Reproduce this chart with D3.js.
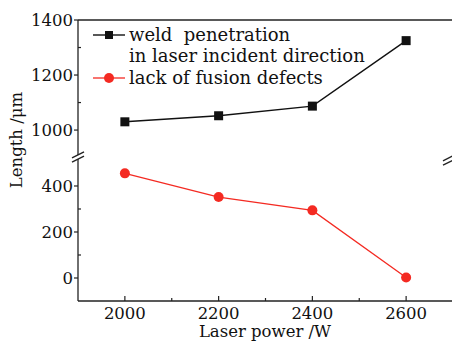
<!DOCTYPE html>
<html><head><meta charset="utf-8">
<script src="https://cdn.jsdelivr.net/npm/d3@7"></script>
<style>body{margin:0;background:#fff}svg{display:block}text{font-family:"DejaVu Serif",serif;fill:#111}</style>
</head><body><svg id="c" width="452" height="342"></svg>
<script>
const power = [2000, 2200, 2400, 2600];
const weldPenetration = [1030, 1052, 1087, 1325];
const lackOfFusion = [455, 352, 294, 2];
const xTicks = [2000, 2200, 2400, 2600];
const xMinor = [2100, 2300, 2500];
const yUpperTicks = [1000, 1200, 1400];
const yUpperMinor = [1100, 1300];
const yLowerTicks = [0, 200, 400];
const yLowerMinor = [100, 300];
const legendLabels = [["weld  penetration", "in laser incident direction"], ["lack of fusion defects"]];

const svg = d3.select("#c");
const FF = "DejaVu Serif, serif";
const L = 78, R = 453, T = 20, B = 301;
const x = d3.scaleLinear().domain([1900, 2700]).range([L, R]);
const yU = d3.scaleLinear().domain([913, 1400]).range([154, T]);
const yL = d3.scaleLinear().domain([-100, 513]).range([B, 160]);
const fs = 16.5, fl = 18;

// frame
svg.append("line").attr("x1", L).attr("x2", 452).attr("y1", T).attr("y2", T).attr("stroke", "#222").attr("stroke-width", 1.3);
svg.append("line").attr("x1", L).attr("x2", 452).attr("y1", B).attr("y2", B).attr("stroke", "#222").attr("stroke-width", 1.3);
svg.append("line").attr("x1", L).attr("x2", L).attr("y1", T).attr("y2", 155).attr("stroke", "#222").attr("stroke-width", 1.3);
svg.append("line").attr("x1", L).attr("x2", L).attr("y1", 159).attr("y2", B).attr("stroke", "#222").attr("stroke-width", 1.3);
// break marks
[[L, 157], [449, 160]].forEach(([bx, by]) => {
  [-2.2, 2.2].forEach(d => {
    svg.append("line").attr("x1", bx - 6).attr("x2", bx + 6).attr("y1", by + d + 3).attr("y2", by + d - 3)
      .attr("stroke", "#222").attr("stroke-width", 1.3);
  });
});

// x ticks
xTicks.forEach(v => {
  svg.append("line").attr("x1", x(v)).attr("x2", x(v)).attr("y1", B).attr("y2", B - 5).attr("stroke", "#222").attr("stroke-width", 1.2);
  svg.append("text").attr("x", x(v)).attr("y", B + 18).attr("text-anchor", "middle").attr("font-family", FF).attr("font-size", fs).text(v);
});
xMinor.forEach(v => {
  svg.append("line").attr("x1", x(v)).attr("x2", x(v)).attr("y1", B).attr("y2", B - 3).attr("stroke", "#222").attr("stroke-width", 1.2);
});
// y ticks
function yt(scale, ticks, minor) {
  ticks.forEach(v => {
    svg.append("line").attr("x1", L - 4).attr("x2", L).attr("y1", scale(v)).attr("y2", scale(v)).attr("stroke", "#222").attr("stroke-width", 1.2);
    svg.append("text").attr("x", L - 5).attr("y", scale(v) + 6).attr("text-anchor", "end").attr("font-family", FF).attr("font-size", fs).text(v);
  });
  minor.forEach(v => {
    svg.append("line").attr("x1", L).attr("x2", L + 3).attr("y1", scale(v)).attr("y2", scale(v)).attr("stroke", "#222").attr("stroke-width", 1.2);
  });
}
yt(yU, yUpperTicks, yUpperMinor);
yt(yL, yLowerTicks, yLowerMinor);

// axis titles
svg.append("text").attr("x", 265).attr("y", 337).attr("text-anchor", "middle").attr("font-family", FF).attr("font-size", 16.5).text("Laser power /W");
svg.append("text").attr("transform", "translate(22,140) rotate(-90)").attr("text-anchor", "middle").attr("font-family", FF).attr("font-size", 16.5).text("Length /μm");

// series
const black = "#111", red = "#f42a22";
const lu = d3.line().x((d, i) => x(power[i])).y(d => yU(d));
const ll = d3.line().x((d, i) => x(power[i])).y(d => yL(d));
svg.append("path").attr("d", lu(weldPenetration)).attr("fill", "none").attr("stroke", black).attr("stroke-width", 1.4);
svg.selectAll(".sq").data(weldPenetration).enter().append("rect")
  .attr("x", (d, i) => x(power[i]) - 4.5).attr("y", d => yU(d) - 4.5).attr("width", 9).attr("height", 9).attr("fill", black);
svg.append("path").attr("d", ll(lackOfFusion)).attr("fill", "none").attr("stroke", red).attr("stroke-width", 1.3);
svg.selectAll(".ci").data(lackOfFusion).enter().append("circle")
  .attr("cx", (d, i) => x(power[i])).attr("cy", d => yL(d)).attr("r", 5).attr("fill", red);

// legend
const lg = svg.append("g");
lg.append("line").attr("x1", 93).attr("x2", 125).attr("y1", 35).attr("y2", 35).attr("stroke", black).attr("stroke-width", 1.4);
lg.append("rect").attr("x", 105).attr("y", 31).attr("width", 8).attr("height", 8).attr("fill", black);
lg.append("text").attr("x", 129).attr("y", 41).attr("font-family", FF).attr("font-size", fl).attr("xml:space", "preserve").style("white-space", "pre").text(legendLabels[0][0]);
lg.append("text").attr("x", 129).attr("y", 62).attr("font-family", FF).attr("font-size", fl).text(legendLabels[0][1]);
lg.append("line").attr("x1", 93).attr("x2", 125).attr("y1", 78).attr("y2", 78).attr("stroke", red).attr("stroke-width", 1.3);
lg.append("circle").attr("cx", 109).attr("cy", 78).attr("r", 5).attr("fill", red);
lg.append("text").attr("x", 129).attr("y", 84).attr("font-family", FF).attr("font-size", fl).text(legendLabels[1][0]);
</script></body></html>
